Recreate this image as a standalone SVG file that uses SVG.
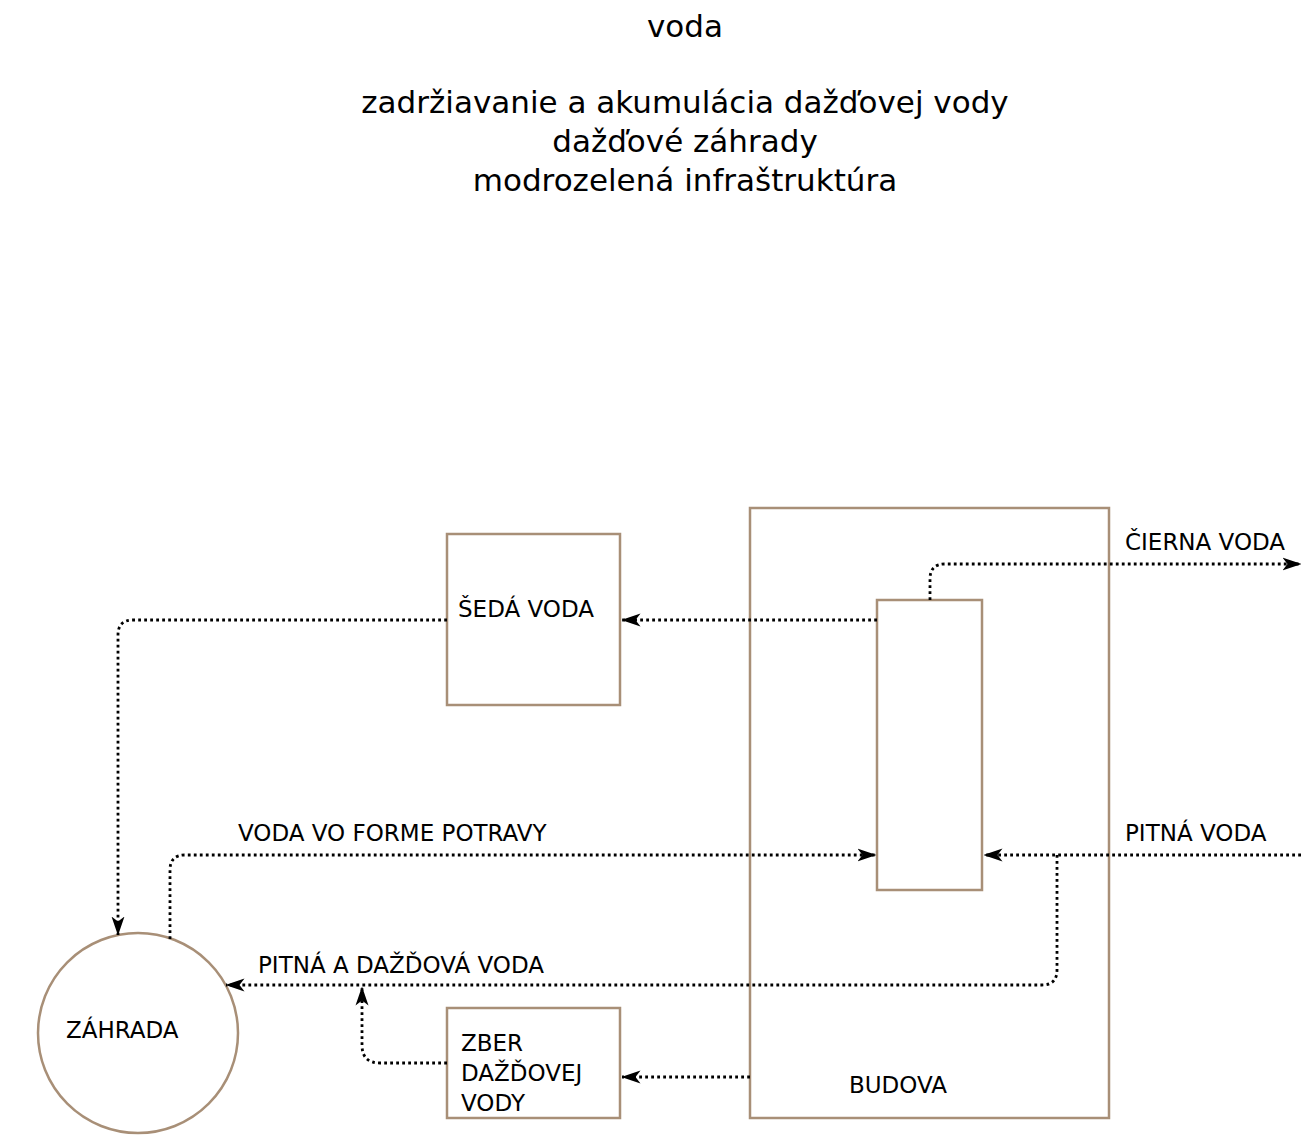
<svg xmlns="http://www.w3.org/2000/svg" width="1301" height="1136" viewBox="0 0 1301 1136">
<style>
.t{font-family:"DejaVu Sans","Liberation Sans",sans-serif;fill:#000}
.title{font-size:31px;text-anchor:middle}
.lbl{font-size:23px}
.box{fill:#fff;stroke:#a88f77;stroke-width:2.5}
.c{fill:none;stroke:#000;stroke-width:2.8;stroke-dasharray:2.8 3.2}
.a{marker-end:url(#arr)}
</style>
<defs>
<marker id="arr" markerUnits="userSpaceOnUse" markerWidth="19" markerHeight="14" refX="18.5" refY="7" orient="auto" viewBox="0 0 19 14">
<path d="M0,0.5 L19,7 L0,13.5 L5,7 Z" fill="#000"/>
</marker>
</defs>
<rect width="1301" height="1136" fill="#fff"/>
<g id="title">
<text class="t title" x="685" y="37">voda</text>
<text class="t title" x="685" y="113">zadržiavanie a akumulácia dažďovej vody</text>
<text class="t title" x="685" y="152">dažďové záhrady</text>
<text class="t title" x="685" y="191">modrozelená infraštruktúra</text>
</g>
<g id="budova">
<rect class="box" x="750" y="508" width="359" height="610"/>
<text class="t lbl" x="849" y="1093">BUDOVA</text>
</g>
<g id="vnutro">
<rect class="box" x="877" y="600" width="105" height="290"/>
</g>
<g id="seda-voda">
<rect class="box" x="447" y="534" width="173" height="171"/>
<text class="t lbl" x="458" y="617">ŠEDÁ VODA</text>
</g>
<g id="zber">
<rect class="box" x="447" y="1008" width="173" height="110"/>
<text class="t lbl" x="461" y="1051">ZBER</text>
<text class="t lbl" x="461" y="1081">DAŽĎOVEJ</text>
<text class="t lbl" x="461" y="1111">VODY</text>
</g>
<g id="zahrada">
<circle class="box" cx="138" cy="1033" r="100"/>
<text class="t lbl" x="66" y="1038">ZÁHRADA</text>
</g>
<g id="connectors">
<path class="c a" d="M877,620 H622"/>
<path class="c a" d="M447,620 H133 Q118,620 118,635 V935"/>
<path class="c a" d="M930,600 V579 Q930,564 945,564 H1301"/>
<path class="c a" d="M1301,855 H984"/>
<path class="c a" d="M1057,855 V970 Q1057,985 1042,985 H226"/>
<path class="c a" d="M170,939 V870 Q170,855 185,855 H876"/>
<path class="c a" d="M750,1077 H622"/>
<path class="c a" d="M447,1063 H380 Q362,1063 362,1045 V987"/>
<text class="t lbl" x="1125" y="550">ČIERNA VODA</text>
<text class="t lbl" x="1125" y="841">PITNÁ VODA</text>
<text class="t lbl" x="238" y="841">VODA VO FORME POTRAVY</text>
<text class="t lbl" x="258" y="973">PITNÁ A DAŽĎOVÁ VODA</text>
</g>
</svg>
